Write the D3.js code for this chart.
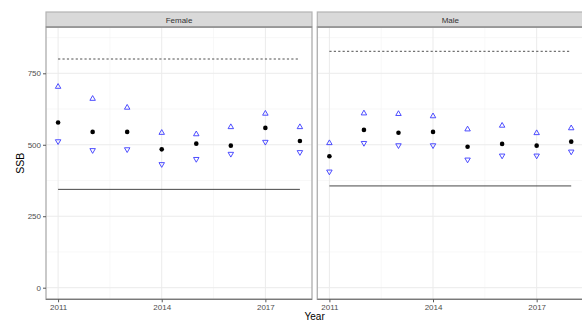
<!DOCTYPE html>
<html>
<head>
<meta charset="utf-8">
<script src="https://cdn.jsdelivr.net/npm/d3@7"></script>
<style>
body{margin:0;background:#fff;}
svg{display:block;font-family:"Liberation Sans",Arial,sans-serif;}
</style>
</head>
<body>
<svg id="chart" width="582" height="320"></svg>
<script>
const years = [2011, 2012, 2013, 2014, 2015, 2016, 2017, 2018];
const panels = ["Female", "Male"];
const femaleSSB   = [578, 545, 545, 484, 504, 497, 559, 513];
const femaleUpper = [703, 661, 630, 542, 537, 562, 609, 562];
const femaleLower = [512, 481, 484, 432, 450, 468, 510, 474];
const maleSSB     = [460, 552, 542, 545, 493, 503, 497, 511];
const maleUpper   = [506, 610, 608, 600, 554, 567, 541, 558];
const maleLower   = [406, 506, 498, 498, 448, 462, 462, 476];
const refHigh = [800, 827];
const refLow  = [344, 356];
const yTicks = [0, 250, 500, 750];
const yMinor = [125, 375, 625, 875];
const xTicks = [2011, 2014, 2017];
const xMinor = [2012.5, 2015.5];

const series = {
  Female: {ssb: femaleSSB, up: femaleUpper, lo: femaleLower, hi: refHigh[0], low: refLow[0]},
  Male:   {ssb: maleSSB,   up: maleUpper,   lo: maleLower,   hi: refHigh[1], low: refLow[1]}
};

const svg = d3.select("#chart");
const pTop = 27, pBottom = 299.3, stripTop = 12;
const panelW = 266, gap = 5.3, left0 = 46;
const y = d3.scaleLinear().domain([-40.6, 912]).range([pBottom, pTop]);

panels.forEach((name, i) => {
  const x0 = left0 + i * (panelW + gap);
  const x = d3.scaleLinear().domain([2010.65, 2018.35]).range([x0, x0 + panelW]);
  const g = svg.append("g");
  const d = series[name];

  // grid
  g.selectAll(".ymin").data(yMinor).join("line")
    .attr("x1", x0).attr("x2", x0 + panelW).attr("y1", v => y(v)).attr("y2", v => y(v))
    .attr("stroke", "#f3f3f3").attr("stroke-width", 0.6);
  g.selectAll(".xmin").data(xMinor).join("line")
    .attr("x1", v => x(v)).attr("x2", v => x(v)).attr("y1", pTop).attr("y2", pBottom)
    .attr("stroke", "#f3f3f3").attr("stroke-width", 0.6);
  g.selectAll(".ymaj").data(yTicks).join("line")
    .attr("x1", x0).attr("x2", x0 + panelW).attr("y1", v => y(v)).attr("y2", v => y(v))
    .attr("stroke", "#ebebeb").attr("stroke-width", 1);
  g.selectAll(".xmaj").data(xTicks).join("line")
    .attr("x1", v => x(v)).attr("x2", v => x(v)).attr("y1", pTop).attr("y2", pBottom)
    .attr("stroke", "#ebebeb").attr("stroke-width", 1);

  // reference lines
  g.append("line").attr("x1", x(years[0])).attr("x2", x(years[years.length - 1]))
    .attr("y1", y(d.hi)).attr("y2", y(d.hi))
    .attr("stroke", "#222").attr("stroke-width", 0.8).attr("stroke-dasharray", "2.2,2.2");
  g.append("line").attr("x1", x(years[0])).attr("x2", x(years[years.length - 1]))
    .attr("y1", y(d.low)).attr("y2", y(d.low))
    .attr("stroke", "#333").attr("stroke-width", 0.9);

  // points
  const triUp = d3.symbol().type(d3.symbolTriangle).size(13);
  g.selectAll(".up").data(years).join("path")
    .attr("d", triUp)
    .attr("transform", (yr, j) => `translate(${x(yr)},${y(d.up[j])})`)
    .attr("fill", "none").attr("stroke", "#3a3aff").attr("stroke-width", 0.9);
  g.selectAll(".lo").data(years).join("path")
    .attr("d", triUp)
    .attr("transform", (yr, j) => `translate(${x(yr)},${y(d.lo[j])}) rotate(180)`)
    .attr("fill", "none").attr("stroke", "#3a3aff").attr("stroke-width", 0.9);
  g.selectAll(".dot").data(years).join("circle")
    .attr("cx", yr => x(yr)).attr("cy", (yr, j) => y(d.ssb[j])).attr("r", 2.3)
    .attr("fill", "#000");

  // panel border
  g.append("rect").attr("x", x0).attr("y", pTop).attr("width", panelW).attr("height", pBottom - pTop)
    .attr("fill", "none").attr("stroke", "#b3b3b3").attr("stroke-width", 1.4);
  g.append("line").attr("x1", x0).attr("x2", x0 + panelW).attr("y1", pBottom).attr("y2", pBottom)
    .attr("stroke", "#666").attr("stroke-width", 1.1);

  // strip
  g.append("rect").attr("x", x0).attr("y", stripTop).attr("width", panelW).attr("height", pTop - stripTop)
    .attr("fill", "#d9d9d9").attr("stroke", "#b3b3b3").attr("stroke-width", 1.2);
  g.append("line").attr("x1", x0).attr("x2", x0 + panelW).attr("y1", pTop).attr("y2", pTop)
    .attr("stroke", "#777").attr("stroke-width", 1);
  g.append("text").attr("x", x0 + panelW / 2).attr("y", (stripTop + pTop) / 2 + 3)
    .attr("text-anchor", "middle").attr("font-size", 8).attr("fill", "#333").text(name);

  // x axis
  const xa = d3.axisBottom(x).tickValues(xTicks).tickFormat(d3.format("d")).tickSize(3).tickPadding(2);
  const ax = svg.append("g").attr("transform", `translate(0,${pBottom})`).call(xa);
  ax.select(".domain").remove();
  ax.selectAll("line").attr("stroke", "#555");
  ax.selectAll("text").attr("fill", "#4d4d4d").attr("font-size", 8)
    .attr("font-family", "Liberation Sans, Arial, sans-serif");

  if (i === 0) {
    const ya = d3.axisLeft(y).tickValues(yTicks).tickSize(3).tickPadding(2);
    const ay = svg.append("g").attr("transform", `translate(${x0},0)`).call(ya);
    ay.select(".domain").remove();
    ay.selectAll("line").attr("stroke", "#555");
    ay.selectAll("text").attr("fill", "#4d4d4d").attr("font-size", 8)
      .attr("font-family", "Liberation Sans, Arial, sans-serif");
  }
});

svg.append("text").attr("transform", `translate(24,${(pTop + pBottom) / 2}) rotate(-90)`)
  .attr("text-anchor", "middle").attr("font-size", 10.5).attr("fill", "#000").text("SSB");
svg.append("text").attr("x", left0 + (2 * panelW + gap) / 2).attr("y", 319.5)
  .attr("text-anchor", "middle").attr("font-size", 10).attr("fill", "#000").text("Year");
</script>
</body>
</html>
